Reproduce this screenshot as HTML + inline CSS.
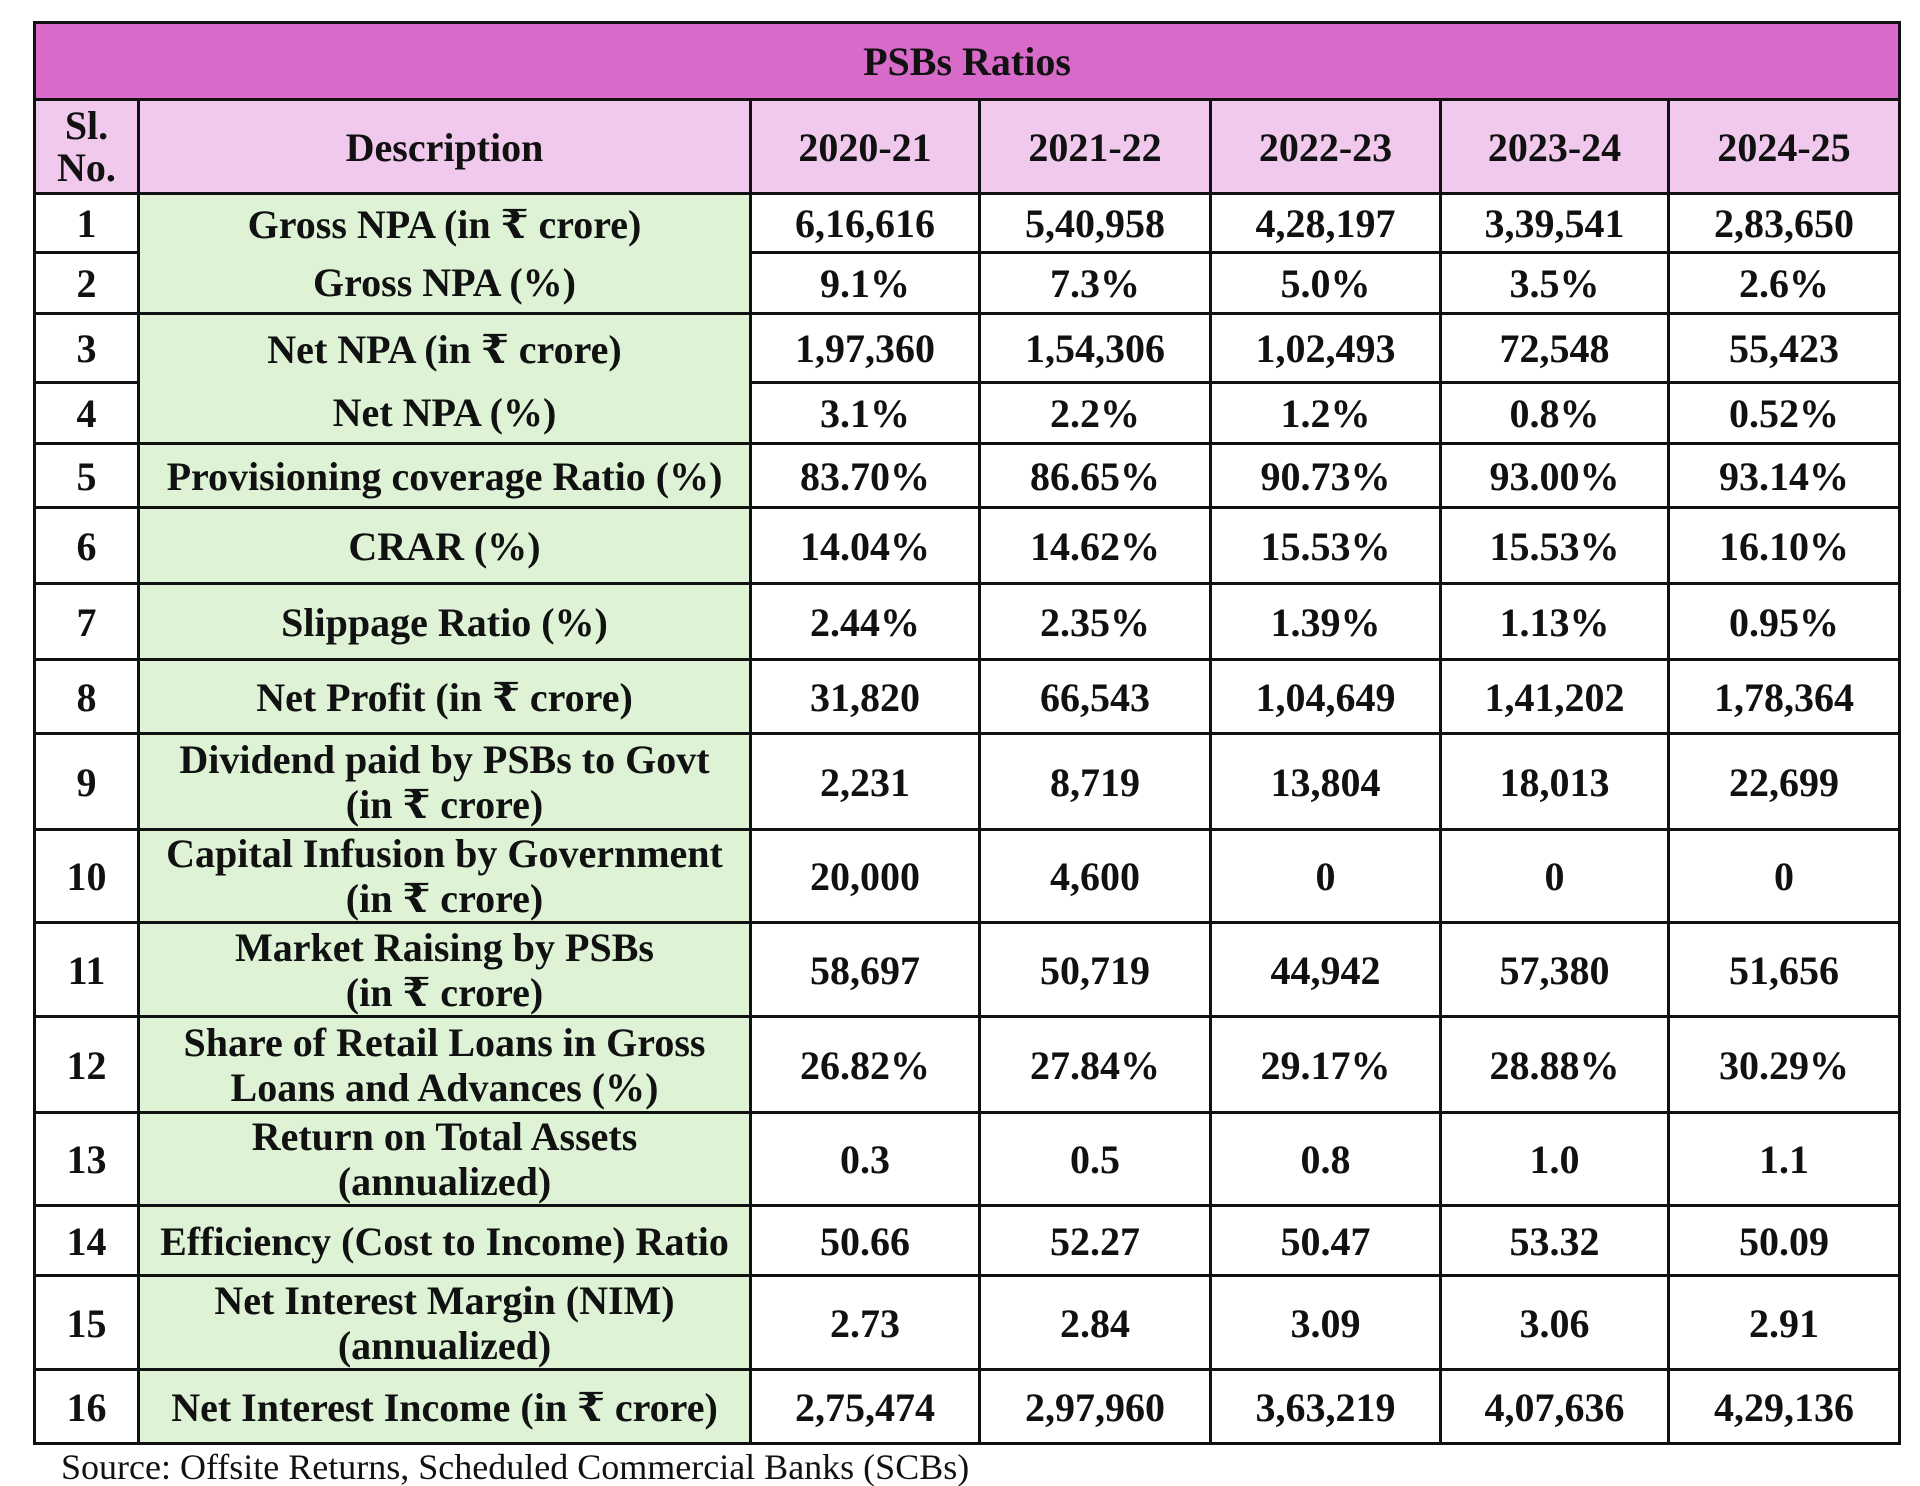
<!DOCTYPE html>
<html><head><meta charset="utf-8">
<style>
html,body{margin:0;padding:0;background:#fff;width:1920px;height:1486px;overflow:hidden}
body{position:relative;font-family:"Liberation Serif","DejaVu Serif",serif}
table{position:absolute;left:33px;top:21px;border-collapse:collapse;table-layout:fixed;font-weight:bold;font-size:40px;color:#111}
td{border:3px solid #111;text-align:center;vertical-align:middle;padding:0;line-height:1;overflow:hidden;white-space:nowrap}
td span{display:inline-block;line-height:45px;vertical-align:middle}
.title{background:#d86bc9}
.head{background:#f0c9ec}
.desc{background:#def3d6}
.src{position:absolute;left:61px;top:1446px;font-size:36px;white-space:nowrap;color:#111}
</style></head><body>
<table id="tbl">
<colgroup><col style="width:104px"><col style="width:612px"><col style="width:229px"><col style="width:231px"><col style="width:230px"><col style="width:228px"><col style="width:231px"></colgroup>
<tr style="height:77px"><td colspan="7" class="title"><span>PSBs Ratios</span></td></tr>
</table>
<div class="src">Source: Offsite Returns, Scheduled Commercial Banks (SCBs)</div>
<script>
const years=["2020-21","2021-22","2022-23","2023-24","2024-25"];
const descriptions=["Gross NPA (in ₹ crore)","Gross NPA (%)","Net NPA (in ₹ crore)","Net NPA (%)","Provisioning coverage Ratio (%)","CRAR (%)","Slippage Ratio (%)","Net Profit (in ₹ crore)","Dividend paid by PSBs to Govt<br>(in ₹ crore)","Capital Infusion by Government<br>(in ₹ crore)","Market Raising by PSBs<br>(in ₹ crore)","Share of Retail Loans in Gross<br>Loans and Advances (%)","Return on Total Assets<br>(annualized)","Efficiency (Cost to Income) Ratio","Net Interest Margin (NIM)<br>(annualized)","Net Interest Income (in ₹ crore)"];
const values=[
["6,16,616","5,40,958","4,28,197","3,39,541","2,83,650"],
["9.1%","7.3%","5.0%","3.5%","2.6%"],
["1,97,360","1,54,306","1,02,493","72,548","55,423"],
["3.1%","2.2%","1.2%","0.8%","0.52%"],
["83.70%","86.65%","90.73%","93.00%","93.14%"],
["14.04%","14.62%","15.53%","15.53%","16.10%"],
["2.44%","2.35%","1.39%","1.13%","0.95%"],
["31,820","66,543","1,04,649","1,41,202","1,78,364"],
["2,231","8,719","13,804","18,013","22,699"],
["20,000","4,600","0","0","0"],
["58,697","50,719","44,942","57,380","51,656"],
["26.82%","27.84%","29.17%","28.88%","30.29%"],
["0.3","0.5","0.8","1.0","1.1"],
["50.66","52.27","50.47","53.32","50.09"],
["2.73","2.84","3.09","3.06","2.91"],
["2,75,474","2,97,960","3,63,219","4,07,636","4,29,136"]];
const rowHeights=[59,61,69,61,64,76,76,74,96,93,94,96,93,70,94,74];
const tbl=document.getElementById('tbl');
function cell(tr,html,cls){const td=document.createElement('td');if(cls)td.className=cls;td.innerHTML='<span>'+html+'</span>';tr.appendChild(td);return td;}
const hr=document.createElement('tr');hr.style.height='94px';


let c=cell(hr,'Sl.<br>No.','head');
c.firstChild.style.lineHeight='42px';


c=cell(hr,'Description','head');


years.forEach(y=>{const t=cell(hr,y,'head');

});
tbl.appendChild(hr);
descriptions.forEach((d,i)=>{
 const tr=document.createElement('tr');tr.style.height=rowHeights[i]+'px';
 
 
 const n=cell(tr,String(i+1));
 
 
 const dc=cell(tr,d,'desc');
 
 
 if(i===0||i===2)dc.style.borderBottom='hidden';
 values[i].forEach(v=>{const t=cell(tr,v);
 
 });
 tbl.appendChild(tr);
});
</script>
</body></html>
